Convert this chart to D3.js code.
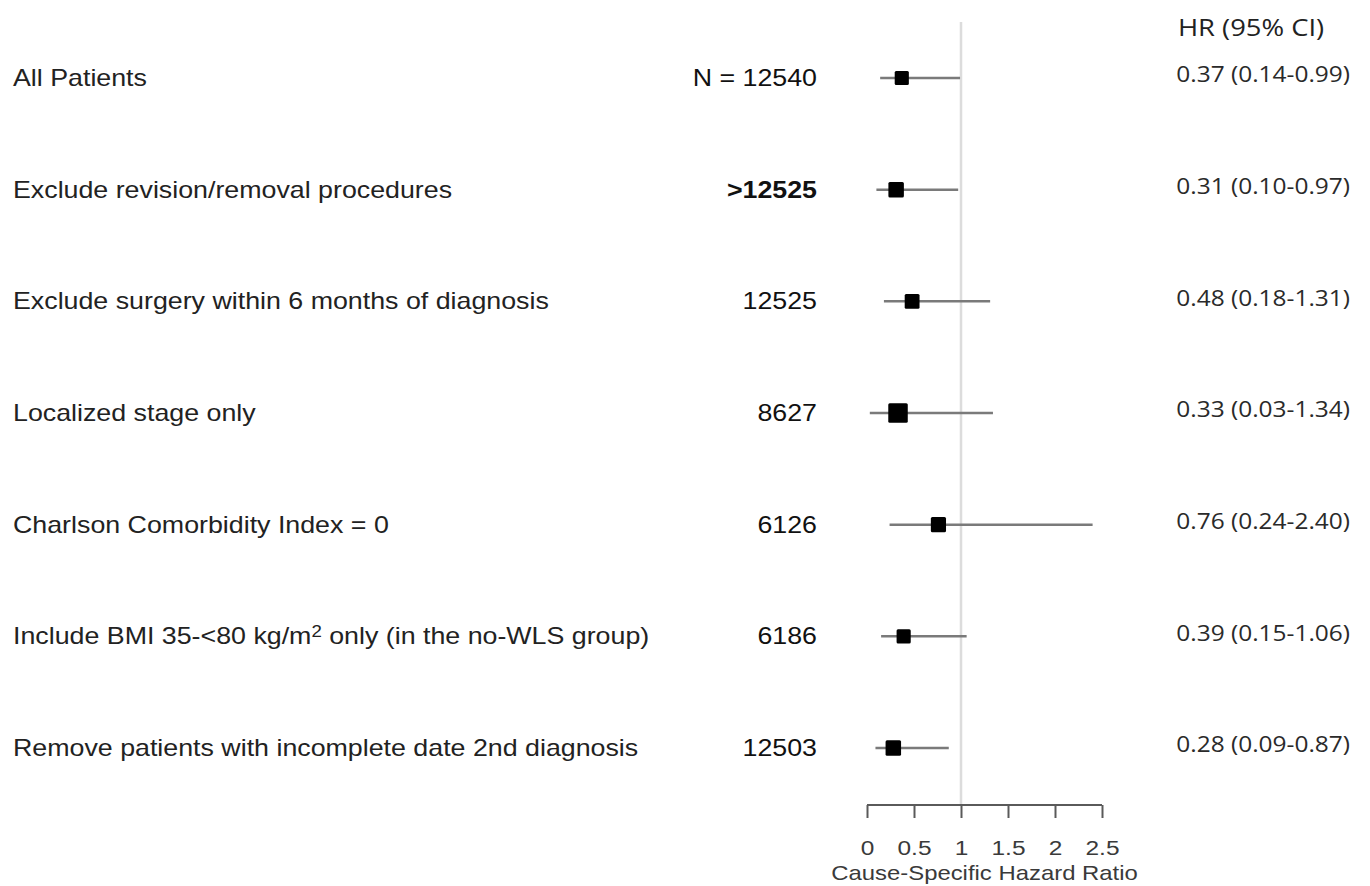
<!DOCTYPE html>
<html><head><meta charset="utf-8">
<script src="https://cdn.jsdelivr.net/npm/d3@7"></script>
<style>body{margin:0;background:#fff}svg{display:block}</style>
</head><body>
<script>
const labels = ["All Patients","Exclude revision/removal procedures","Exclude surgery within 6 months of diagnosis","Localized stage only","Charlson Comorbidity Index = 0","Include BMI 35-<80 kg/m\u00B2 only (in the no-WLS group)","Remove patients with incomplete date 2nd diagnosis"];
const nLabels = ["N = 12540",">12525","12525","8627","6126","6186","12503"];
const nBold = [false,true,false,false,false,false,false];
const hr = [0.37,0.31,0.48,0.33,0.76,0.39,0.28];
const lo = [0.14,0.10,0.18,0.03,0.24,0.15,0.09];
const hi = [0.99,0.97,1.31,1.34,2.40,1.06,0.87];
const boxWeight = [1.0,1.2,1.1,1.9,1.15,1.0,1.2];
const hrText = ["0.37 (0.14-0.99)","0.31 (0.10-0.97)","0.48 (0.18-1.31)","0.33 (0.03-1.34)","0.76 (0.24-2.40)","0.39 (0.15-1.06)","0.28 (0.09-0.87)"];
const ticks = [0,0.5,1,1.5,2,2.5];

const W=1370,H=886, SX=1.165;
const ARIAL="Liberation Sans, Arial, sans-serif", OPEN="Open Sans, Noto Sans, sans-serif";
const svg=d3.select("body").append("svg").attr("width",W).attr("height",H);
const x=d3.scaleLinear().domain([0,2.5]).range([867,1102]);
const y=d3.scalePoint().domain(d3.range(labels.length)).range([78,748]);
const s=d3.scaleSqrt().domain([0,2]).range([0,20]);
const place=(px,py)=>`translate(${px},${py}) scale(${SX},1)`;

// reference line
svg.append("line").attr("x1",x(1)).attr("x2",x(1)).attr("y1",22).attr("y2",805)
  .attr("stroke","#dcdcdc").attr("stroke-width",2.5);

// axis
const ax=svg.append("g").attr("transform","translate(0,805)")
  .call(d3.axisBottom(x).tickValues(ticks).tickSize(13).tickFormat(d3.format("")));
ax.select(".domain").attr("stroke","#5a5a5a").attr("stroke-width",2).attr("d",`M${x(0)},0H${x(2.5)}`);
ax.selectAll(".tick line").attr("stroke","#5a5a5a").attr("stroke-width",2);
ax.selectAll(".tick text").attr("font-family",ARIAL).attr("font-size",21)
  .attr("fill","#3a3a3a").attr("dy",0).attr("y",0).attr("transform",place(0,50));
svg.append("text").attr("transform",place(x(1.25),880)).attr("text-anchor","middle")
  .attr("font-family",ARIAL).attr("font-size",20.5).attr("fill","#3a3a3a")
  .text("Cause-Specific Hazard Ratio");

const rows=svg.selectAll("g.row").data(labels).join("g").attr("class","row");
rows.append("text").attr("transform",(d,i)=>place(13,y(i))).attr("dy","0.35em")
  .attr("font-family",ARIAL).attr("font-size",23).attr("fill","#222")
  .each(function(d){
    const t=d3.select(this);
    const k=d.indexOf("\u00B2");
    if(k<0){t.text(d);return;}
    t.append("tspan").text(d.slice(0,k));
    t.append("tspan").attr("font-size",16).attr("dy",-7).text("2");
    t.append("tspan").attr("dy",7).text(d.slice(k+1));
  });
rows.append("text").attr("transform",(d,i)=>place(817,y(i))).attr("dy","0.35em").attr("text-anchor","end")
  .attr("font-family",ARIAL).attr("font-size",23).attr("fill","#111")
  .attr("font-weight",(d,i)=>nBold[i]?"bold":"normal").text((d,i)=>nLabels[i]);
rows.append("line").attr("x1",(d,i)=>x(lo[i])).attr("x2",(d,i)=>x(hi[i]))
  .attr("y1",(d,i)=>y(i)).attr("y2",(d,i)=>y(i)).attr("stroke","#7a7a7a").attr("stroke-width",2.5);
rows.append("rect").attr("x",(d,i)=>x(hr[i])-s(boxWeight[i])/2).attr("y",(d,i)=>y(i)-s(boxWeight[i])/2)
  .attr("width",(d,i)=>s(boxWeight[i])).attr("height",(d,i)=>s(boxWeight[i])).attr("rx",1.5).attr("fill","#000");
rows.append("text").attr("transform",(d,i)=>place(1350,y(i)-3)).attr("dy","0.35em").attr("text-anchor","end")
  .attr("font-family",OPEN).attr("font-size",21).attr("fill","#2a2a2a")
  .text((d,i)=>hrText[i]);
svg.append("text").attr("transform",place(1251,28)).attr("dy","0.35em").attr("text-anchor","middle")
  .attr("font-family",OPEN).attr("font-size",23.5).attr("fill","#222")
  .text("HR (95% CI)");
</script>
</body></html>
